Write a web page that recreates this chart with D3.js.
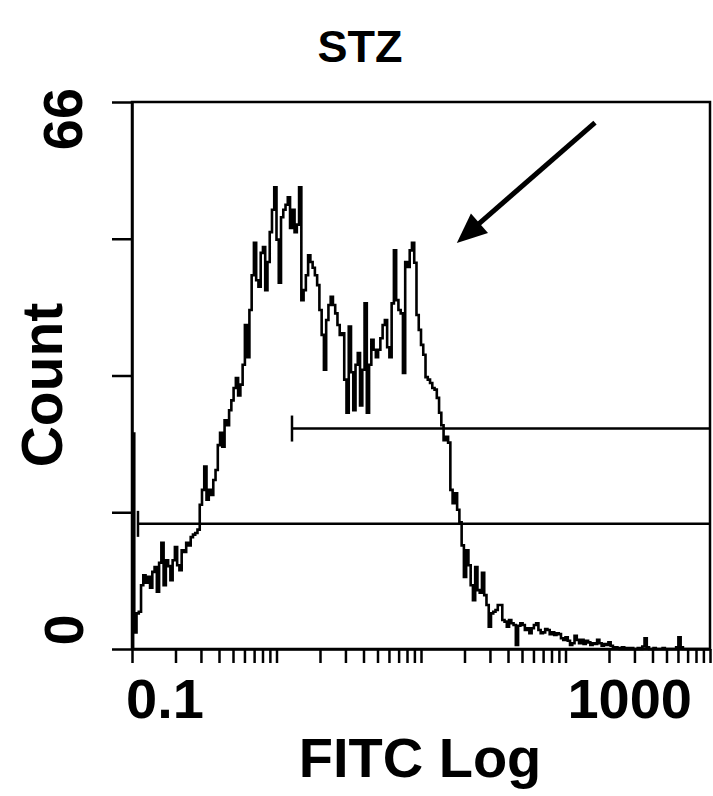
<!DOCTYPE html>
<html>
<head>
<meta charset="utf-8">
<script src="https://cdn.jsdelivr.net/npm/d3@7"></script>
<style>
  body { margin: 0; background: #fff; }
  text { font-family: "Liberation Sans", Arial, sans-serif; font-weight: bold; fill: #000; }
</style>
</head>
<body>
<div id="chart"></div>
<script>
const title = "STZ";
const xLabel = "FITC Log";
const yLabel = "Count";
const xDomain = [0.1, 1000];
const yDomain = [0, 66];
const xTickLabels = ["0.1", "1000"];
const yTickValues = [0, 16.5, 33, 49.5, 66];
const yTickLabels = ["0", "66"];

// counts per channel, 256 log channels between 0.1 and 1000
const counts = [
  26, 2.0, 4.3, 4.5, 7.7, 8.9, 8.0, 8.7, 7.4, 9.3,
  9.9, 6.9, 10.4, 12.8, 7.7, 10.7, 10.0, 8.3, 10.7, 12.3,
  10.1, 9.5, 11.9, 11.7, 12.8, 12.5, 13.5, 13.8, 14.0, 14.4,
  17.4, 19.2, 22.0, 18.0, 19.2, 18.6, 20.4, 21.6, 24.6, 26.1,
  24.4, 27.6, 27.0, 28.8, 30.0, 31.5, 32.7, 30.6, 31.9, 34.3,
  39.1, 35.2, 40.9, 45.1, 49.0, 44.5, 43.7, 47.8, 48.5, 43.3,
  46.7, 50.3, 53.0, 55.7, 49.4, 44.2, 52.1, 53.0, 53.6, 54.5,
  50.8, 53.0, 50.3, 51.2, 55.7, 42.1, 43.3, 45.1, 47.5, 46.7,
  46.0, 45.1, 43.9, 40.9, 37.9, 33.7, 39.7, 41.5, 42.5, 41.5,
  40.5, 39.1, 37.9, 38.1, 32.5, 28.5, 38.9, 33.4, 28.8, 34.3,
  35.7, 29.4, 33.7, 41.7, 28.5, 34.3, 37.3, 36.1, 35.2, 36.1,
  37.5, 39.1, 39.7, 36.4, 35.2, 41.7, 48.1, 42.1, 40.9, 40.5,
  33.3, 46.7, 46.1, 48.1, 49.0, 46.6, 40.3, 38.5, 36.7, 35.5,
  32.8, 32.5, 32.1, 31.5, 31.3, 30.3, 28.5, 27.0, 25.2, 25.6,
  24.9, 19.2, 17.6, 18.8, 16.8, 15.3, 12.5, 8.7, 11.9, 10.1,
  7.7, 5.9, 9.9, 7.1, 6.8, 9.2, 6.5, 5.3, 2.7, 4.3,
  4.5, 4.7, 5.3, 5.3, 3.5, 3.3, 2.7, 3.5, 3.1, 2.9,
  0.5, 2.8, 3.1, 2.9, 2.3, 2.5, 1.9, 2.5, 2.9, 3.1,
  2.3, 1.9, 2.0, 2.4, 2.3, 1.8, 2.0, 1.7, 1.9, 1.8,
  1.3, 1.1, 1.4, 1.0, 0.5, 0.7, 1.6, 1.1, 0.7, 1.1,
  0.6, 1.0, 0.8, 0.5, 0.7, 0.6, 1.1, 0.7, 0.4, 0.6,
  0.5, 0.8, 0.4, 0.1, 0.2, 0.1, 0, 0.2, 0, 0.1,
  0, 0.1, 0, 0, 0.1, 0, 0.3, 1.3, 0.2, 0,
  0, 0.1, 0, 0, 0, 0.1, 0, 0, 0, 0,
  0, 0.2, 1.4, 0.2, 0, 0, 0, 0, 0, 0,
  0, 0, 0, 0, 0, 0
];

// gate markers (start FITC, count level), they run to the axis end
const markerFrom = [0.11, 1.28];
const markerLevel = [15.1, 26.6];

// annotation arrow [FITC, count]
const arrowFrom = [160, 63.5];
const arrowTo = [17.7, 49.0];

const width = 713, height = 796;
const margin = {top: 102, right: 3, bottom: 147, left: 132};

const svg = d3.select("#chart").append("svg")
  .attr("width", width).attr("height", height);

const x = d3.scaleLog().domain(xDomain).range([margin.left, width - margin.right]);
const y = d3.scaleLinear().domain(yDomain).range([height - margin.bottom, margin.top]);

const nCh = counts.length;
const chanValue = i => xDomain[0] * Math.pow(xDomain[1] / xDomain[0], i / nCh);

// histogram trace
const pts = [{v: chanValue(0.5), c: 0}].concat(counts.map((c, i) => ({v: chanValue(i + 0.5), c: c})));
const line = d3.line()
  .x(d => x(d.v))
  .y(d => y(d.c))
  .curve(d3.curveStep);

svg.append("path")
  .datum(pts)
  .attr("fill", "none")
  .attr("stroke", "#000")
  .attr("stroke-width", 2.6)
  .attr("stroke-linejoin", "miter")
  .attr("d", line);

// frame
svg.append("rect")
  .attr("x", x(xDomain[0])).attr("y", y(yDomain[1]))
  .attr("width", x(xDomain[1]) - x(xDomain[0]))
  .attr("height", y(yDomain[0]) - y(yDomain[1]))
  .attr("fill", "none").attr("stroke", "#000").attr("stroke-width", 2.5);

// x axis
let xTicks = [];
for (let d = 0.1; d < 1000; d *= 10) {
  for (let k = 1; k < 10; k++) xTicks.push(+(d * k).toPrecision(3));
}
xTicks.push(1000);
const gx = svg.append("g")
  .attr("transform", `translate(0,${y(0)})`)
  .call(d3.axisBottom(x).tickValues(xTicks).tickSize(14).tickSizeOuter(0).tickFormat(""));
gx.selectAll("line, path").attr("stroke", "#000").attr("stroke-width", 2.5);

// y axis
const gy = svg.append("g")
  .attr("transform", `translate(${x(xDomain[0])},0)`)
  .call(d3.axisLeft(y).tickValues(yTickValues).tickSize(20).tickSizeOuter(0).tickFormat(""));
gy.selectAll("line, path").attr("stroke", "#000").attr("stroke-width", 2.5);

// gate markers
markerFrom.forEach((f, i) => {
  const g = svg.append("g").attr("stroke", "#000").attr("stroke-width", 2.5);
  g.append("line")
    .attr("x1", x(f)).attr("x2", x(xDomain[1]))
    .attr("y1", y(markerLevel[i])).attr("y2", y(markerLevel[i]));
  g.append("line")
    .attr("x1", x(f)).attr("x2", x(f))
    .attr("y1", y(markerLevel[i]) - 13).attr("y2", y(markerLevel[i]) + 13);
});

// arrow
const ax1 = x(arrowFrom[0]), ay1 = y(arrowFrom[1]);
const ax2 = x(arrowTo[0]), ay2 = y(arrowTo[1]);
const ang = Math.atan2(ay2 - ay1, ax2 - ax1);
const headLen = 30, headHalf = 13;
svg.append("line")
  .attr("x1", ax1).attr("y1", ay1)
  .attr("x2", ax2 - Math.cos(ang) * (headLen - 4))
  .attr("y2", ay2 - Math.sin(ang) * (headLen - 4))
  .attr("stroke", "#000").attr("stroke-width", 5);
const bx = ax2 - Math.cos(ang) * headLen, by = ay2 - Math.sin(ang) * headLen;
svg.append("polygon")
  .attr("points", [
    [ax2, ay2],
    [bx + Math.sin(ang) * headHalf, by - Math.cos(ang) * headHalf],
    [bx - Math.sin(ang) * headHalf, by + Math.cos(ang) * headHalf]
  ].map(p => p.join(",")).join(" "))
  .attr("fill", "#000");

// texts
svg.append("text")
  .attr("x", 360).attr("y", 62)
  .attr("text-anchor", "middle")
  .style("font-size", "45px")
  .text(title);

svg.append("text")
  .attr("x", x(xDomain[0]) - 6).attr("y", 718)
  .style("font-size", "56px")
  .text(xTickLabels[0]);
svg.append("text")
  .attr("x", x(xDomain[1]) - 18).attr("y", 718)
  .attr("text-anchor", "end")
  .style("font-size", "56px")
  .text(xTickLabels[1]);

svg.append("text")
  .attr("transform", `translate(82,${y(yDomain[1]) + 17}) rotate(-90)`)
  .attr("text-anchor", "middle")
  .style("font-size", "56px")
  .text(yTickLabels[1]);
svg.append("text")
  .attr("transform", `translate(83,${y(yDomain[0]) - 19}) rotate(-90)`)
  .attr("text-anchor", "middle")
  .style("font-size", "56px")
  .text(yTickLabels[0]);

svg.append("text")
  .attr("x", 420).attr("y", 777)
  .attr("text-anchor", "middle")
  .style("font-size", "56px")
  .text(xLabel);

svg.append("text")
  .attr("transform", "translate(62,385) rotate(-90)")
  .attr("text-anchor", "middle")
  .style("font-size", "57px")
  .text(yLabel);
</script>
</body>
</html>
